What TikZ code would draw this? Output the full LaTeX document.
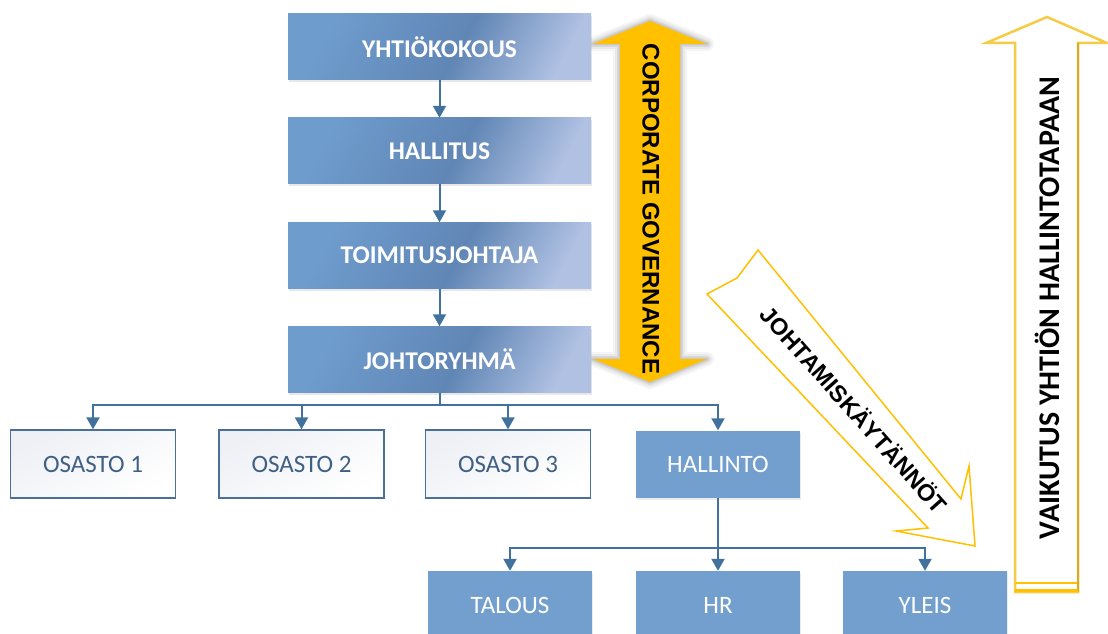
\documentclass[tikz,border=0pt]{standalone}
\usepackage{fontspec}
\setmainfont{Carlito}
\newfontfamily\lsans{Liberation Sans}
\usetikzlibrary{arrows.meta,shadows}
\definecolor{conn}{HTML}{41719C}
\definecolor{boxA}{HTML}{6E9CCD}
\definecolor{boxM}{HTML}{6086B5}
\definecolor{boxB}{HTML}{B0C1E3}
\definecolor{flat}{HTML}{739FCE}
\definecolor{osborder}{HTML}{4A6F98}
\definecolor{ostext}{HTML}{3F5F85}
\definecolor{osfill}{HTML}{EEF0F5}
\definecolor{gold}{HTML}{FFC000}
\definecolor{goldL}{HTML}{F6CB45}
\definecolor{goldD}{HTML}{D9A92A}
\pgfdeclareverticalshading{boxshade}{100bp}{color(0bp)=(boxB); color(24bp)=(boxB); color(46bp)=(boxM); color(74bp)=(boxA); color(100bp)=(boxA)}
\tikzset{
  topbox/.style={rectangle, minimum width=303pt, minimum height=66pt, inner sep=0pt,
    shading=boxshade, shading angle=62,
    text=white, font=\fontsize{25.5}{29}\selectfont\bfseries,
    drop shadow={opacity=0.18, shadow xshift=1pt, shadow yshift=-2pt}},
  osbox/.style={rectangle, minimum width=165pt, minimum height=68pt, inner sep=0pt,
    draw=osborder, line width=1.3pt, top color=osfill, bottom color=white,
    shading angle=30,
    text=ostext, font=\fontsize{25}{29}\selectfont},
  flatbox/.style={rectangle, minimum width=164pt, minimum height=67pt, inner sep=0pt,
    fill=flat, text=white, font=\fontsize{25}{29}\selectfont,
    drop shadow={opacity=0.15, shadow xshift=1pt, shadow yshift=-2pt}},
  conn/.style={draw=conn, line width=2pt, -{Triangle[width=13pt,length=12pt]}},
  connline/.style={draw=conn, line width=2pt},
}
\begin{document}
\begin{tikzpicture}[x=1pt,y=1pt]
\useasboundingbox (0,0) rectangle (1108,633);

% ---------- gold double arrow (Corporate governance) ----------
\def\goldarrow{(650,612) -- (707,589) -- (680,589) -- (680,274) -- (707,274) -- (650,251) -- (593,274) -- (620,274) -- (620,589) -- (593,589) -- cycle}
\foreach \w/\o in {14/0.04,10/0.05,6/0.07,3/0.08}
  \draw[line width=\w pt, black, opacity=\o, line join=round] \goldarrow;
\fill[gold] \goldarrow;
\node[rotate=-90, font=\lsans\fontsize{24}{28}\selectfont\bfseries, inner sep=0pt] (cg) at (651,424) {CORPORATE GOVERNANCE};

% ---------- main column ----------
\node[topbox] (yk) at (439.5,586) {YHTIÖKOKOUS};
\node[topbox] (ha) at (439.5,482) {HALLITUS};
\node[topbox] (tj) at (439.5,377.5) {TOIMITUSJOHTAJA};
\node[topbox] (jr) at (439.5,273.5) {JOHTORYHMÄ};

\draw[conn] (yk.south) -- (ha.north);
\draw[conn] (ha.south) -- (tj.north);
\draw[conn] (tj.south) -- (jr.north);

% ---------- second row ----------
\node[osbox] (o1) at (93,169) {OSASTO 1};
\node[osbox] (o2) at (301.5,169) {OSASTO 2};
\node[osbox] (o3) at (508,169) {OSASTO 3};
\node[flatbox] (hl) at (718,169) {HALLINTO};

\coordinate (jb) at (439.5,228);
\draw[connline] (jr.south) -- (jb);
\draw[conn] (jb) -| (o1.north);
\draw[conn] (jb) -| (o2.north);
\draw[conn] (jb) -| (o3.north);
\draw[conn] (jb) -| (hl.north);

% ---------- third row ----------
\node[flatbox, minimum height=68pt] (ta) at (510,28) {TALOUS};
\node[flatbox, minimum height=68pt] (hr) at (718,28) {HR};
\node[flatbox, minimum height=68pt] (yl) at (925,28) {YLEIS};

\coordinate (hb) at (718,85);
\draw[connline] (hl.south) -- (hb);
\draw[conn] (hb) -| (ta.north);
\draw[conn] (hb) -- (hr.north);
\draw[conn] (hb) -| (yl.north);

% ---------- diagonal arrow ----------
\draw[gold, line width=1.5pt, fill=white, line join=miter]
  (758,383) -- (961,134) -- (969,167) -- (975,87) -- (896,102) -- (928,105) -- (707,339) -- (737,355) -- cycle;
\node[rotate=-48.4, font=\lsans\fontsize{23.5}{27}\selectfont\bfseries, inner sep=0pt] (jk) at (855,224) {JOHTAMISKÄYTÄNNÖT};

% ---------- right vertical arrow ----------
\draw[goldL, line width=2.5pt, fill=white, line join=miter]
  (1047,616) -- (1107,590) -- (1078,590) -- (1078,41) -- (1015,41) -- (1015,590) -- (986,590) -- cycle;
\draw[goldD, line width=2pt] (1078,590) -- (1078,41);
\draw[gold, line width=3pt] (1015,43) -- (1078,43);
\draw[gold, line width=1.5pt] (1016,50) -- (1077,50);
\node[rotate=90, font=\fontsize{30}{34}\selectfont\bfseries, inner sep=0pt] (vk) at (1047,325) {VAIKUTUS YHTIÖN HALLINTOTAPAAN};
\end{tikzpicture}
\end{document}
